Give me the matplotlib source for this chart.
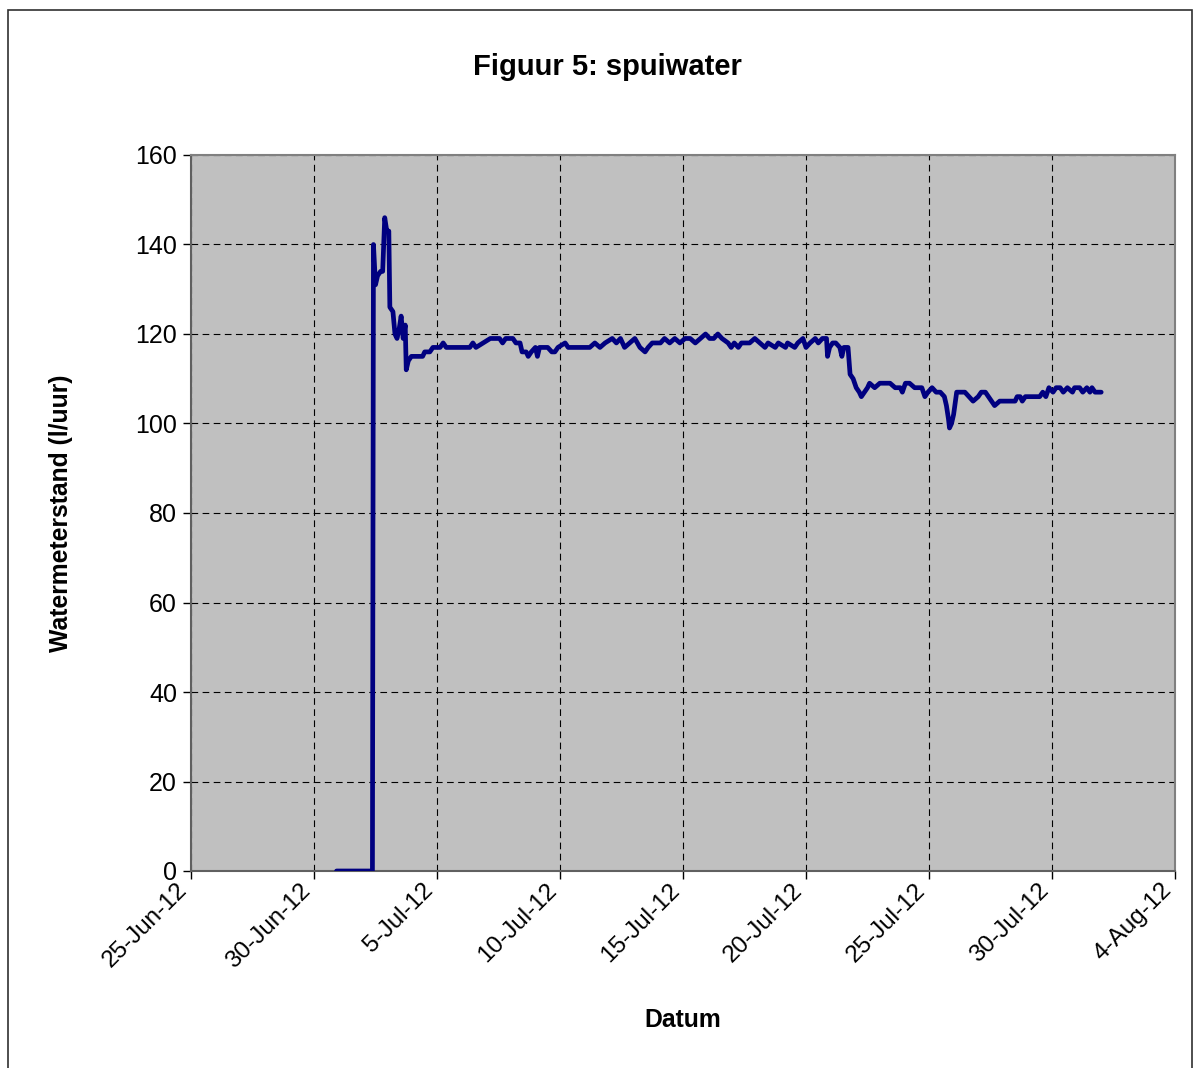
import matplotlib
matplotlib.use("Agg")
import matplotlib.pyplot as plt
from matplotlib.patches import Rectangle
from matplotlib.transforms import ScaledTranslation
import matplotlib.dates as mdates
import pandas as pd

plt.rcParams['font.family'] = ['Liberation Sans', 'DejaVu Sans']

# Meetmomenten: uren na 1 juli 2012 00:00
hours = [
    -2, 33, 34, 36, 38, 41, 43, 45, 47, 49, 50, 53, 55, 57, 59, 61, 63, 65, 66, 68,
    71, 82, 84, 89, 92, 99, 102, 105, 128, 131, 134, 141, 148, 157, 160, 163, 170,
    173, 177, 179, 183, 185, 188, 192, 194, 196, 204, 208, 211, 214, 221, 224, 245,
    250, 255, 260, 267, 271, 275, 279, 284, 289, 294, 299, 302, 306, 314, 318, 323,
    328, 333, 338, 343, 348, 353, 358, 362, 366, 370, 374, 380, 383, 386, 390, 393,
    401, 406, 411, 416, 419, 426, 429, 436, 438, 445, 448, 453, 456, 460, 465, 468,
    472, 476, 477, 479, 482, 485, 489, 491, 493, 497, 499, 502, 505, 508, 510, 513,
    516, 518, 523, 528, 538, 543, 548, 550, 553, 557, 562, 569, 572, 575, 579, 583,
    587, 591, 593, 595, 596, 598, 600, 603, 611, 615, 619, 624, 627, 631, 634, 637,
    640, 645, 660, 662, 665, 667, 670, 684, 687, 690, 693, 697, 700, 704, 707, 711,
    716, 718, 723, 726, 730, 733, 735, 738, 744,
]

# Spuiwater (l/uur)
flow = [
    0, 0, 140, 131, 133, 134, 134, 146, 143, 143, 126, 125, 120, 119, 121, 124, 119,
    122, 112, 114, 115, 115, 116, 116, 117, 117, 118, 117, 117, 118, 117, 118, 119,
    119, 118, 119, 119, 118, 118, 116, 116, 115, 116, 117, 115, 117, 117, 116, 116,
    117, 118, 117, 117, 118, 117, 118, 119, 118, 119, 117, 118, 119, 117, 116, 117,
    118, 118, 119, 118, 119, 118, 119, 119, 118, 119, 120, 119, 119, 120, 119, 118,
    117, 118, 117, 118, 118, 119, 118, 117, 118, 117, 118, 117, 118, 117, 118, 119,
    117, 118, 119, 118, 119, 119, 115, 117, 118, 118, 117, 115, 117, 117, 111, 110,
    108, 107, 106, 107, 108, 109, 108, 109, 109, 108, 108, 107, 109, 109, 108, 108,
    106, 107, 108, 107, 107, 106, 104, 101, 99, 100, 102, 107, 107, 106, 105, 106,
    107, 107, 106, 105, 104, 105, 105, 106, 106, 105, 106, 106, 107, 106, 108, 107,
    108, 108, 107, 108, 107, 108, 108, 107, 108, 107, 108, 107, 107,
]

start = pd.Timestamp("2012-07-01")
times = [start + pd.Timedelta(hours=h) for h in hours]

tick_dates = pd.date_range("2012-06-25", "2012-08-04", freq="5D")
tick_labels = [f"{d.day}-{d.strftime('%b')}-{d.strftime('%y')}" for d in tick_dates]
y_ticks = [0, 20, 40, 60, 80, 100, 120, 140, 160]

W, H = 1195, 1068
fig = plt.figure(figsize=(W / 100, H / 100), dpi=100)

# Kader rond de grafiek
fig.patches.append(Rectangle((8 / W, -0.01), (1192 - 8) / W, 1.01 - 10 / H,
                             transform=fig.transFigure, fill=False,
                             edgecolor='#303030', linewidth=1.2))

ax = fig.add_axes([191 / W, (H - 871) / H, (1175 - 191) / W, (871 - 155) / H])
ax.set_facecolor('#C0C0C0')

ax.plot(times, flow, color='#000080', linewidth=3.4, solid_joinstyle='round',
        solid_capstyle='round', zorder=3)

ax.set_xlim(tick_dates[0], tick_dates[-1])
ax.set_ylim(0, 160)
ax.set_xticks(tick_dates)
ax.set_xticklabels([])
ax.set_yticks(y_ticks)

# schuine datumlabels onder de as
label_tf = ax.get_xaxis_transform() + ScaledTranslation(-7 / 100, -16 / 100,
                                                        fig.dpi_scale_trans)
for d, txt in zip(tick_dates, tick_labels):
    ax.text(mdates.date2num(d), 0, txt, transform=label_tf, rotation=45,
            ha='right', va='center', rotation_mode='anchor', fontsize=17.5,
            clip_on=False)

ax.grid(True, color='black', linestyle=(0, (6, 4)), linewidth=0.8)
ax.set_axisbelow(True)

for side in ['top', 'right']:
    ax.spines[side].set_color('#808080')
    ax.spines[side].set_linewidth(1.5)
for side in ['left', 'bottom']:
    ax.spines[side].set_color('#606060')
    ax.spines[side].set_linewidth(1.5)

ax.tick_params(axis='both', colors='black', length=6, width=1, direction='out')
ax.tick_params(axis='y', labelsize=18, pad=4)

fig.text(607 / W, 1 - 67 / H, "Figuur 5: spuiwater", ha='center', va='center',
         fontsize=21, fontweight='bold')
fig.text(683 / W, 1 - 1020 / H, "Datum", ha='center', va='center',
         fontsize=17.8, fontweight='bold')
fig.text(61 / W, 1 - 513 / H, "Watermeterstand (l/uur)", ha='center', va='center',
         rotation=90, fontsize=17.8, fontweight='bold')

fig.savefig("out.png", dpi=100)
